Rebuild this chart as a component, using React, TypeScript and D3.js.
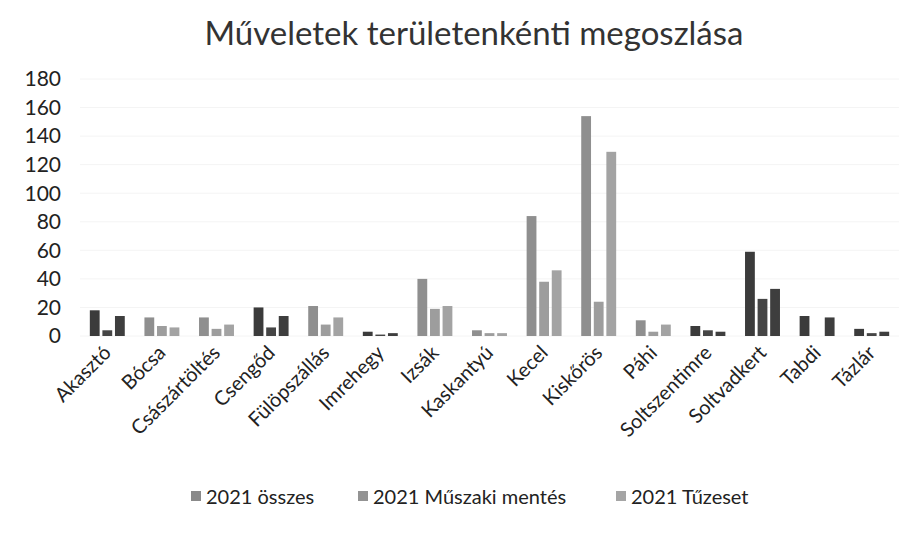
import React from "react";
import * as d3 from "d3";

const categories = ["Akasztó","Bócsa","Császártöltés","Csengőd","Fülöpszállás","Imrehegy","Izsák","Kaskantyú","Kecel","Kiskőrös","Páhi","Soltszentimre","Soltvadkert","Tabdi","Tázlár"];
const seriesNames = ["2021 összes","2021 Műszaki mentés","2021 Tűzeset"];
const osszes = [18,13,13,20,21,3,40,4,84,154,11,7,59,14,5];
const muszaki = [4,7,5,6,8,1,19,2,38,24,3,4,26,0,2];
const tuzeset = [14,6,8,14,13,2,21,2,46,129,8,3,33,13,3];
const yTicks = [0,20,40,60,80,100,120,140,160,180];
// scan shading per category (dark vs. light groups)
const darkGroups = ["Akasztó","Csengőd","Imrehegy","Soltszentimre","Soltvadkert","Tabdi","Tázlár"];

const W = 912, H = 535;
const FONT = "Lato, 'Open Sans', sans-serif";

export default function App() {
  const series = [osszes, muszaki, tuzeset];
  const x = d3.scaleBand<string>().domain(categories).range([80, 899]).paddingInner(0.36).paddingOuter(0.18);
  const xs = d3.scaleBand<number>().domain([0,1,2]).range([0, x.bandwidth()]).paddingInner(0.22);
  const y = d3.scaleLinear().domain([0,180]).range([336, 79]);
  const darkCols = ["#3b3b3b","#454545","#3e3e3e"];
  const lightCols = ["#8f8f8f","#9d9d9d","#a3a3a3"];
  const legendCols = ["#8a8a8a","#939393","#a5a5a5"];
  const legendX = [191, 358, 616];

  return (
    <svg width={W} height={H} style={{position:"absolute",left:0,top:0,background:"#fff"}} fontFamily={FONT}>
      <rect x={0} y={0} width={W} height={H} fill="#fff" />
      <text x={474} y={45} textAnchor="middle" fontSize={33} fill="#333">Műveletek területenkénti megoszlása</text>
      {yTicks.map(t => (
        <g key={t}>
          <line x1={80} x2={899} y1={y(t)} y2={y(t)} stroke="#f4f4f4" strokeWidth={1} />
          <text x={61} y={y(t)} dy="0.35em" textAnchor="end" fontSize={21} fill="#222">{t}</text>
        </g>
      ))}
      {categories.map((c, i) => {
        const dark = darkGroups.includes(c);
        return (
          <g key={c} transform={`translate(${x(c)},0)`}>
            {series.map((s, k) => (
              <rect key={k} x={xs(k)} y={y(s[i])} width={xs.bandwidth()} height={y(0) - y(s[i])}
                fill={dark ? darkCols[k] : lightCols[k]} />
            ))}
          </g>
        );
      })}
      {categories.map(c => {
        const cx = (x(c) as number) + x.bandwidth() / 2 + 5;
        return (
          <text key={c} transform={`translate(${cx},${354}) rotate(-45)`} textAnchor="end" fontSize={20} fill="#222">{c}</text>
        );
      })}
      {seriesNames.map((n, k) => (
        <g key={n}>
          <rect x={legendX[k]} y={491} width={10} height={10} fill={legendCols[k]} />
          <text x={legendX[k] + 15} y={497} dy="0.35em" fontSize={20} fill="#222">{n}</text>
        </g>
      ))}
    </svg>
  );
}
